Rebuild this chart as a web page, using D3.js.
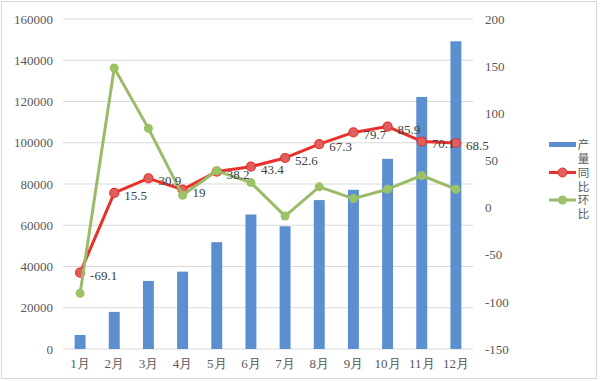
<!DOCTYPE html>
<html><head><meta charset="utf-8">
<script src="https://cdn.jsdelivr.net/npm/d3@7"></script>
<style>body{margin:0;background:#fff;} svg{display:block;}</style>
</head><body>
<svg id="c" width="600" height="381"></svg>
<script>
const months = ["1月","2月","3月","4月","5月","6月","7月","8月","9月","10月","11月","12月"];
const output = [6800,18000,33000,37500,51800,65200,59500,72200,77200,92200,122200,149200];
const yoy = [-69.1,15.5,30.9,19,38.2,43.4,52.6,67.3,79.7,85.9,70.1,68.5];
const mom = [-91,148,84,13,39,26.5,-9,22,9.5,19.5,34,19.5];
const leftTicks = [0,20000,40000,60000,80000,100000,120000,140000,160000];
const rightTicks = [-150,-100,-50,0,50,100,150,200];
const seriesNames = ["产量","同比","环比"];

const svg = d3.select("#c");
const font = "'Liberation Serif', 'DejaVu Serif', serif";
const txt = "#595959";
const L = 63, R = 473, T = 19, B = 349;

svg.append("rect").attr("x",1.5).attr("y",1.5).attr("width",595).attr("height",377)
  .attr("fill","#fff").attr("stroke","#d9d9d9");

const x = d3.scaleBand().domain(months).range([L,R]).paddingInner(0.68).paddingOuter(0.34);
const xc = d => x(d) + x.bandwidth()/2;
const yL = d3.scaleLinear().domain([0,160000]).range([B,T]);
const yR = d3.scaleLinear().domain([-150,200]).range([B,T]);

// gridlines
svg.append("g").selectAll("line").data(leftTicks).join("line")
  .attr("x1",L).attr("x2",R).attr("y1",d=>yL(d)).attr("y2",d=>yL(d))
  .attr("stroke","#d9d9d9").attr("stroke-width",1);

// left axis
const gl = svg.append("g").attr("transform",`translate(${L},0)`)
  .call(d3.axisLeft(yL).tickValues(leftTicks).tickSize(0).tickPadding(10).tickFormat(d=>String(d)));
gl.attr("font-family",font).attr("font-size",13);
gl.select(".domain").remove();
gl.selectAll("text").attr("fill",txt);

// right axis
const gr = svg.append("g").attr("transform",`translate(${R},0)`)
  .call(d3.axisRight(yR).tickValues(rightTicks).tickSize(0).tickPadding(12).tickFormat(d=>String(d)));
gr.attr("font-family",font).attr("font-size",13);
gr.select(".domain").remove();
gr.selectAll("text").attr("fill",txt);

// x axis
const gx = svg.append("g").attr("transform",`translate(0,${B})`)
  .call(d3.axisBottom(x).tickSize(0).tickPadding(10));
gx.attr("font-family",font).attr("font-size",13);
gx.select(".domain").remove();
gx.selectAll("text").attr("fill",txt);

// bars
svg.append("g").selectAll("rect").data(output).join("rect")
  .attr("x",(d,i)=>x(months[i])).attr("width",x.bandwidth())
  .attr("y",d=>yL(d)).attr("height",d=>B-yL(d)).attr("fill","#5b8fcf");

// yoy line
const lineY = d3.line().x((d,i)=>xc(months[i])).y(d=>yR(d));
svg.append("path").datum(yoy).attr("d",lineY).attr("fill","none")
  .attr("stroke","#e8312b").attr("stroke-width",3).attr("stroke-linejoin","round");
svg.append("g").selectAll("circle").data(yoy).join("circle")
  .attr("cx",(d,i)=>xc(months[i])).attr("cy",d=>yR(d)).attr("r",4.5)
  .attr("fill","#e06060").attr("stroke","#e8312b").attr("stroke-width",1.2);

// mom line
svg.append("path").datum(mom).attr("d",lineY).attr("fill","none")
  .attr("stroke","#9bbb69").attr("stroke-width",3).attr("stroke-linejoin","round");
svg.append("g").selectAll("circle").data(mom).join("circle")
  .attr("cx",(d,i)=>xc(months[i])).attr("cy",d=>yR(d)).attr("r",4.5)
  .attr("fill","#9bc265");

// yoy labels
svg.append("g").selectAll("text").data(yoy).join("text")
  .attr("x",(d,i)=>xc(months[i])+10).attr("y",d=>yR(d)+7)
  .attr("font-family",font).attr("font-size",13).attr("fill","#404040")
  .text(d=>d);

// legend
const lg = svg.append("g");
lg.append("rect").attr("x",549).attr("y",142).attr("width",27).attr("height",5).attr("fill","#5b8fcf");
lg.append("line").attr("x1",549).attr("x2",576).attr("y1",172.5).attr("y2",172.5).attr("stroke","#e8312b").attr("stroke-width",3);
lg.append("circle").attr("cx",562.5).attr("cy",172.5).attr("r",4.5).attr("fill","#e06060").attr("stroke","#e8312b");
lg.append("line").attr("x1",549).attr("x2",576).attr("y1",200).attr("y2",200).attr("stroke","#9bbb69").attr("stroke-width",3);
lg.append("circle").attr("cx",562.5).attr("cy",200).attr("r",4.5).attr("fill","#9bc265");
const legY = [144.5,172.5,200];
seriesNames.forEach((n,i)=>{
  lg.append("text").attr("x",583.5).attr("y",legY[i]-5.75)
    .attr("writing-mode","vertical-rl").attr("letter-spacing",2.5)
    .attr("font-family","'Noto Sans CJK SC', sans-serif").attr("font-size",11.5).attr("fill",txt)
    .text(n);
});
</script>
</body></html>
